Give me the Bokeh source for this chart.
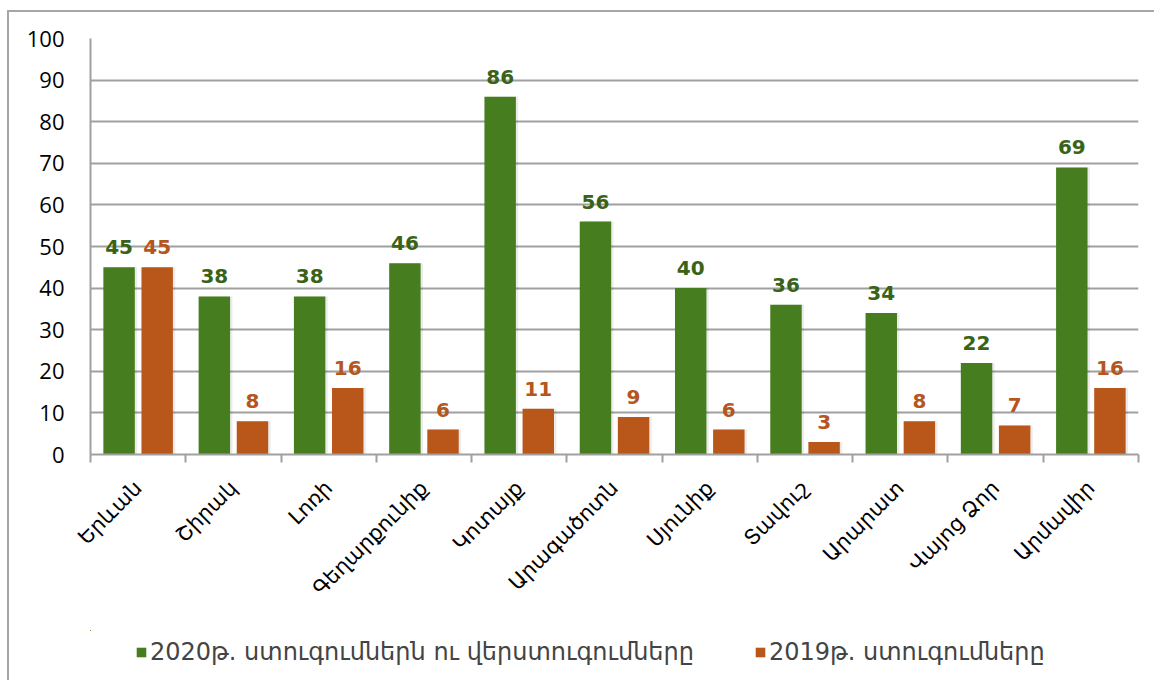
from bokeh.plotting import figure
from bokeh.layouts import column
from bokeh.models import ColumnDataSource, FixedTicker, Legend, LegendItem, Range1d
from bokeh.core.properties import value
from bokeh.embed import file_html
from bokeh.resources import INLINE
import math

regions = ["Երևան", "Շիրակ", "Լոռի", "Գեղարքունիք", "Կոտայք", "Արագածոտն",
           "Սյունիք", "Տավուշ", "Արարատ", "Վայոց Ձոր", "Արմավիր"]
v2020 = [45, 38, 38, 46, 86, 56, 40, 36, 34, 22, 69]
v2019 = [45, 8, 16, 6, 11, 9, 6, 3, 8, 7, 16]
label2020 = "2020թ. ստուգումներն ու վերստուգումները"
label2019 = "2019թ. ստուգումները"
yticks = [0, 10, 20, 30, 40, 50, 60, 70, 80, 90, 100]

GREEN = "#467d1f"
ORANGE = "#b95619"
GREEN_T = "#3a6318"
ORANGE_T = "#b4561d"
BORDER = "2px solid #a6a6a6"

n = len(regions)
centers = [i + 0.5 for i in range(n)]
src = ColumnDataSource(dict(
    xg=[c - 0.2 for c in centers], xo=[c + 0.2 for c in centers],
    g=v2020, o=v2019,
    gl=[str(v) for v in v2020], ol=[str(v) for v in v2019],
    xgs=[c - 0.2 + 0.025 for c in centers], xos=[c + 0.2 + 0.025 for c in centers],
))

p = figure(frame_width=1046, frame_height=414, output_backend="svg", toolbar_location=None,
           x_range=Range1d(0, n), y_range=Range1d(0, 100),
           min_border_left=81, min_border_right=18, min_border_top=26, min_border_bottom=178)
p.margin = (10, 0, 0, 7)
p.styles = {"border-left": BORDER, "border-top": BORDER}
p.outline_line_color = None
p.background_fill_color = "white"
p.border_fill_color = "white"

# shadows
p.vbar(x="xgs", top="g", width=0.33, bottom=0, source=src, fill_color="black", fill_alpha=0.08, line_color=None)
p.vbar(x="xos", top="o", width=0.33, bottom=0, source=src, fill_color="black", fill_alpha=0.08, line_color=None)

p.vbar(x="xg", top="g", width=0.33, bottom=0, source=src, fill_color=GREEN, line_color=None)
p.vbar(x="xo", top="o", width=0.33, bottom=0, source=src, fill_color=ORANGE, line_color=None)

p.text(x="xg", y="g", text="gl", source=src, text_align="center", text_baseline="bottom",
       y_offset=-13, text_font=value("DejaVu Sans"), text_font_style="bold",
       text_font_size="20px", text_color=GREEN_T)
p.text(x="xo", y="o", text="ol", source=src, text_align="center", text_baseline="bottom",
       y_offset=-13, text_font=value("DejaVu Sans"), text_font_style="bold",
       text_font_size="20px", text_color=ORANGE_T)

# y axis
p.yaxis.ticker = FixedTicker(ticks=yticks)
p.yaxis.major_tick_line_color = None
p.yaxis.minor_tick_line_color = None
p.yaxis.axis_line_color = "#a0a0a0"
p.yaxis.axis_line_width = 2
p.yaxis.major_label_text_font = "Open Sans"
p.yaxis.major_label_text_font_size = "22px"
p.yaxis.major_label_text_color = "black"
p.yaxis.major_label_standoff = 20
p.ygrid.grid_line_color = "#a0a0a0"
p.ygrid.grid_line_width = 2
p.xgrid.grid_line_color = None

# x axis
p.xaxis.ticker = FixedTicker(ticks=centers, minor_ticks=list(range(n + 1)))
p.xaxis.major_label_overrides = {c: r for c, r in zip(centers, regions)}
p.xaxis.major_tick_line_color = None
p.xaxis.minor_tick_line_color = "#a0a0a0"
p.xaxis.minor_tick_line_width = 2
p.xaxis.minor_tick_in = 0
p.xaxis.minor_tick_out = 8
p.xaxis.axis_line_color = "#a0a0a0"
p.xaxis.axis_line_width = 2
p.xaxis.major_label_orientation = math.pi / 4
p.xaxis.major_label_text_font = "DejaVu Sans"
p.xaxis.major_label_text_font_size = "21px"
p.xaxis.major_label_text_color = "black"
p.xaxis.major_label_standoff = 22

# legend panel (separate svg figure below the chart); its swatch renderers
# use the same series data but lie far outside this panel's ranges
lg = figure(width=1145, height=50, output_backend="svg", toolbar_location=None,
            x_range=Range1d(100, 101), y_range=Range1d(-200, -100),
            x_axis_location=None, y_axis_location=None,
            min_border_left=0, min_border_right=0, min_border_top=0, min_border_bottom=0)
lg.margin = (0, 0, 0, 7)
lg.styles = {"border-left": BORDER}
lg.grid.visible = False
lg.outline_line_color = None
lg.border_fill_color = "white"
lg.background_fill_color = "white"
lg_g = lg.vbar(x="xg", top="g", width=0.33, bottom=0, source=src, fill_color=GREEN, line_color=None)
lg_o = lg.vbar(x="xo", top="o", width=0.33, bottom=0, source=src, fill_color=ORANGE, line_color=None)
legend = Legend(items=[LegendItem(label=label2020, renderers=[lg_g]),
                       LegendItem(label=label2019, renderers=[lg_o])],
                orientation="horizontal", location=(45, 14))
legend.label_text_font = "DejaVu Sans"
legend.label_text_font_size = "24px"
legend.glyph_width = 12
legend.glyph_height = 12
legend.spacing = 60
legend.label_standoff = 3
legend.padding = 5
legend.margin = 0
legend.border_line_color = None
legend.background_fill_alpha = 0
lg.add_layout(legend)

layout = column(p, lg, spacing=0)
open("out.html", "w").write(file_html(layout, INLINE))
